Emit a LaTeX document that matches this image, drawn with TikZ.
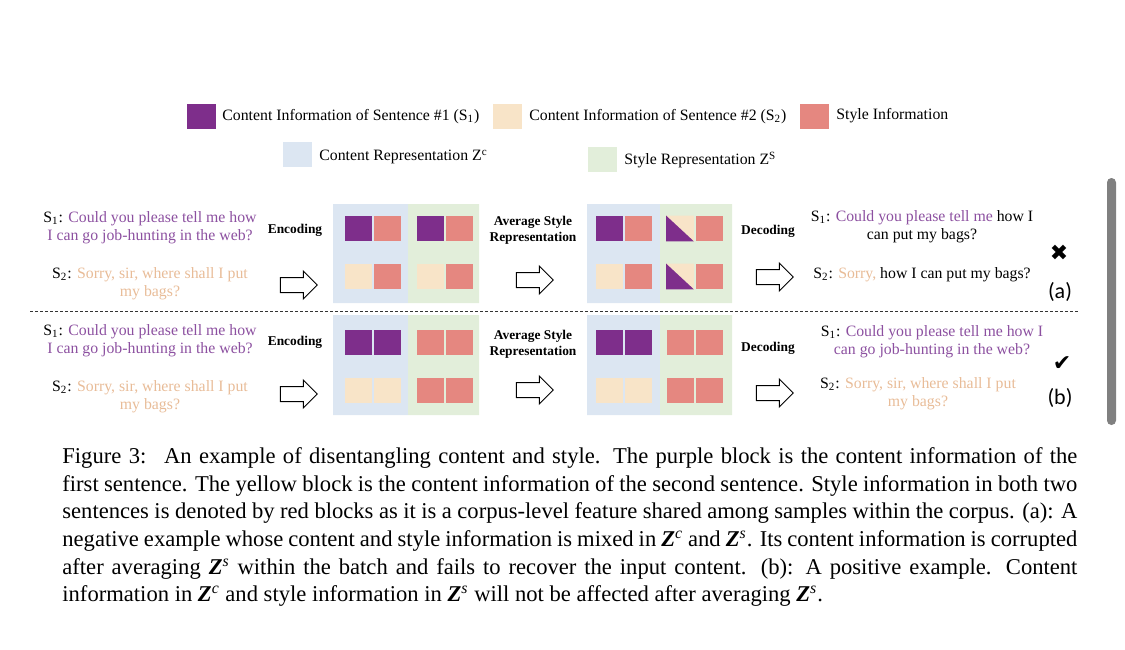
\documentclass[tikz,border=0pt]{standalone}
\usepackage{fontspec}
\setmainfont{Liberation Serif}
\newfontfamily\labfont{Carlito}
\newfontfamily\symfont{DejaVu Sans}
\usetikzlibrary{shapes.arrows}
\definecolor{cpurple}{RGB}{126,46,139}
\definecolor{cbeige}{RGB}{248,228,200}
\definecolor{cred}{RGB}{229,135,128}
\definecolor{cblue}{RGB}{220,230,242}
\definecolor{cgreen}{RGB}{226,238,218}
\definecolor{tpurple}{RGB}{140,80,160}
\definecolor{tbeige}{RGB}{232,188,152}
\definecolor{scroll}{RGB}{128,128,128}
\newcommand{\capZc}{\textbf{\textit{Z}}\textsuperscript{\textit{c}}}
\newcommand{\capZs}{\textbf{\textit{Z}}\textsuperscript{\textit{s}}}
\tikzset{
  key/.style={minimum width=14.5pt, minimum height=12.5pt, inner sep=0pt},
  keytext/.style={anchor=west, inner sep=0pt, font=\fontsize{7.9}{9}\selectfont},
  blk/.style={minimum width=13.5pt, minimum height=12.5pt, inner sep=0pt},
  sent/.style={align=center, inner sep=0pt, font=\fontsize{7.9}{9}\selectfont},
  op/.style={align=center, inner sep=0pt, font=\fontsize{6.7}{8}\selectfont\bfseries},
  hollow/.style={single arrow, draw, fill=white, line width=0.5pt, inner sep=3.5pt,
    minimum height=18.5pt, single arrow head extend=3.2pt},
  verdict/.style={inner sep=0pt, font=\symfont\fontsize{11}{11}\selectfont},
  tagtext/.style={inner sep=0pt, font=\labfont\fontsize{11}{11}\selectfont},
}
\begin{document}
\begin{tikzpicture}[x=0.5pt,y=-0.5pt]
  \useasboundingbox (0,0) rectangle (1125,649);
  \draw
    (201.5,116) node[key,fill=cpurple] (k1){}
    (222,117) node[keytext] (k1t){Content Information of Sentence \#1 (S\textsubscript{1})}
    (507.5,116) node[key,fill=cbeige] (k2){}
    (529,117) node[keytext] (k2t){Content Information of Sentence \#2 (S\textsubscript{2})}
    (814.5,116) node[key,fill=cred] (k3){}
    (836,116) node[keytext] (k3t){Style Information}
    (297.5,154.5) node[key,fill=cblue] (k4){}
    (319,157) node[keytext] (k4t){Content Representation Z\textsuperscript{c}}
    (602.5,159.5) node[key,fill=cgreen] (k5){}
    (624,160) node[keytext] (k5t){Style Representation Z\textsuperscript{S}};
  \fill[cblue] (333,204) rectangle (408,303) (587,204) rectangle (660,303);
  \fill[cgreen] (408,204) rectangle (479,303) (660,204) rectangle (732,303);
  \fill[cblue] (333,315) rectangle (408,415) (587,315) rectangle (660,415);
  \fill[cgreen] (408,315) rectangle (479,415) (660,315) rectangle (732,415);
  \draw[dash pattern=on 1.5pt off 1pt, line width=0.5pt, black!80] (30,311) -- (1079,311);
  \fill[scroll, rounded corners=2.2pt] (1107,178) rectangle (1116,425);
  \draw
    (150,227.5) node[sent] (a1){S\textsubscript{1}: \textcolor{tpurple}{Could you please tell me how}\\\textcolor{tpurple}{I can go job-hunting in the web?}}
    (150,284) node[sent] (a2){S\textsubscript{2}: \textcolor{tbeige}{Sorry, sir, where shall I put}\\\textcolor{tbeige}{my bags?}}
    (295,230) node[op] (aenc){Encoding}
    (295,285) node[hollow] (aarr1){}
    (533,230.5) node[op] (aavg){Average Style\\Representation}
    (531,280) node[hollow] (aarr2){}
    (768,231) node[op] (adec){Decoding}
    (771,277) node[hollow] (aarr3){}
    (922,227) node[sent] (a3){S\textsubscript{1}: \textcolor{tpurple}{Could you please tell me} how I\\can put my bags?}
    (922,275) node[sent] (a4){S\textsubscript{2}: \textcolor{tbeige}{Sorry,} how I can put my bags?}
    (1059,253) node[verdict] (ano){✖}
    (1060,292) node[tagtext] (atag){(a)};
  \draw
    (358,228.5) node[blk,fill=cpurple] (ac11){} (387,228.5) node[blk,fill=cred] (ac12){}
    (358,276.5) node[blk,fill=cbeige] (ac21){} (387,276.5) node[blk,fill=cred] (ac22){}
    (430,228.5) node[blk,fill=cpurple] (as11){} (459,228.5) node[blk,fill=cred] (as12){}
    (430,276.5) node[blk,fill=cbeige] (as21){} (459,276.5) node[blk,fill=cred] (as22){}
    (609,228.5) node[blk,fill=cpurple] (bc11){} (638,228.5) node[blk,fill=cred] (bc12){}
    (609,276.5) node[blk,fill=cbeige] (bc21){} (638,276.5) node[blk,fill=cred] (bc22){}
    (680,228.5) node[blk] (bs11){} (709,228.5) node[blk,fill=cred] (bs12){}
    (680,276.5) node[blk] (bs21){} (709,276.5) node[blk,fill=cred] (bs22){};
  \fill[cbeige] (bs11.north west) -- (bs11.north east) -- (bs11.south east) -- cycle;
  \fill[cpurple] (bs11.north west) -- (bs11.south west) -- (bs11.south east) -- cycle;
  \fill[cbeige] (bs21.north west) -- (bs21.north east) -- (bs21.south east) -- cycle;
  \fill[cpurple] (bs21.north west) -- (bs21.south west) -- (bs21.south east) -- cycle;
  \draw
    (150,341) node[sent] (b1){S\textsubscript{1}: \textcolor{tpurple}{Could you please tell me how}\\\textcolor{tpurple}{I can go job-hunting in the web?}}
    (150,397) node[sent] (b2){S\textsubscript{2}: \textcolor{tbeige}{Sorry, sir, where shall I put}\\\textcolor{tbeige}{my bags?}}
    (295,342) node[op] (benc){Encoding}
    (295,394) node[hollow] (barr1){}
    (533,344) node[op] (bavg){Average Style\\Representation}
    (531,390) node[hollow] (barr2){}
    (768,348) node[op] (bdec){Decoding}
    (771,393) node[hollow] (barr3){}
    (932,342) node[sent] (b3){S\textsubscript{1}: \textcolor{tpurple}{Could you please tell me how I}\\\textcolor{tpurple}{can go job-hunting in the web?}}
    (918,394) node[sent] (b4){S\textsubscript{2}: \textcolor{tbeige}{Sorry, sir, where shall I put}\\\textcolor{tbeige}{my bags?}}
    (1062,364) node[verdict] (bok){✔}
    (1060,398) node[tagtext] (btag){(b)};
  \draw
    (358,342.5) node[blk,fill=cpurple] (cc11){} (387,342.5) node[blk,fill=cpurple] (cc12){}
    (358,390.5) node[blk,fill=cbeige] (cc21){} (387,390.5) node[blk,fill=cbeige] (cc22){}
    (430,342.5) node[blk,fill=cred] (cs11){} (459,342.5) node[blk,fill=cred] (cs12){}
    (430,390.5) node[blk,fill=cred] (cs21){} (459,390.5) node[blk,fill=cred] (cs22){}
    (609,342.5) node[blk,fill=cpurple] (dc11){} (638,342.5) node[blk,fill=cpurple] (dc12){}
    (609,390.5) node[blk,fill=cbeige] (dc21){} (638,390.5) node[blk,fill=cbeige] (dc22){}
    (680,342.5) node[blk,fill=cred] (ds11){} (709,342.5) node[blk,fill=cred] (ds12){}
    (680,390.5) node[blk,fill=cred] (ds21){} (709,390.5) node[blk,fill=cred] (ds22){};
  \node[anchor=north west, inner sep=0pt, text width=507.5pt, align=justify,
    font=\fontsize{11.3}{13.85}\selectfont] (cap) at (62,447)
    {Figure 3:\hspace{0.3em} An example of disentangling content and style. The purple block is the content information of the\linebreak
    first sentence. The yellow block is the content information of the second sentence. Style information in both two\linebreak
    sentences is denoted by red blocks as it is a corpus-level feature shared among samples within the corpus. (a): A\linebreak
    negative example whose content and style information is mixed in \capZc{} and \capZs. Its content information is corrupted\linebreak
    after averaging \capZs{} within the batch and fails to recover the input content. (b): A positive example. Content\linebreak
    information in \capZc{} and style information in \capZs{} will not be affected after averaging \capZs.};
\end{tikzpicture}
\end{document}
